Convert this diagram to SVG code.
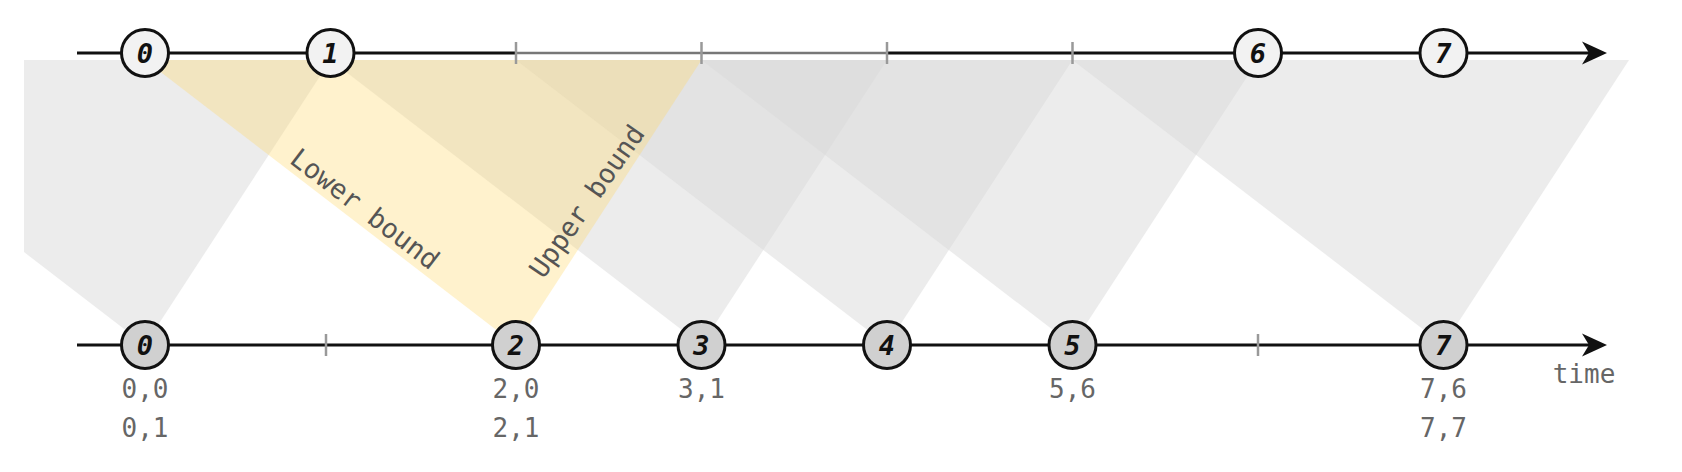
<svg xmlns="http://www.w3.org/2000/svg" width="1682" height="472" viewBox="0 0 1682 472">
<style>
.bg{fill:#fff}
.shade{fill:#d9d9d9;fill-opacity:0.5}
.hl{fill:#ffd966;fill-opacity:0.33}
.axis{stroke:#111;stroke-width:3;fill:none}
.axisg{stroke:#777;stroke-width:2.5;fill:none}
.tick{stroke:#999;stroke-width:2.5}
.top circle{fill:#f2f2f2;stroke:#111;stroke-width:3}
.bot circle{fill:#d0d0d0;stroke:#111;stroke-width:3}
.num{font-family:"DejaVu Sans Mono",monospace;font-weight:bold;font-style:italic;font-size:27px;fill:#111;text-anchor:middle}
.lbl{font-family:"DejaVu Sans Mono",monospace;font-size:26px;fill:#666;text-anchor:middle}
.bound{font-family:"DejaVu Sans Mono",monospace;font-size:27px;fill:#555;text-anchor:middle}
</style>
<defs>
<clipPath id="clip"><rect x="24" y="0" width="1658" height="472"/></clipPath>
<marker id="arr" markerUnits="userSpaceOnUse" markerWidth="30" markerHeight="30" viewBox="0 0 30 30" refX="14" refY="15" orient="auto">
<path d="M27,15 L2,3.5 L9,15 L2,26.5 Z" fill="#111"/>
</marker>
</defs>
<rect class="bg" x="0" y="0" width="1682" height="472"/>
<g id="shading" clip-path="url(#clip)">
<polygon class="shade" points="-226,60 330.5,60 145,345"/>
<polygon class="shade" points="330.5,60 887,60 701.5,345"/>
<polygon class="shade" points="516,60 1072.5,60 887,345"/>
<polygon class="shade" points="701.5,60 1258,60 1072.5,345"/>
<polygon class="shade" points="1072.5,60 1629,60 1443.5,345"/>
<polygon class="hl" points="145,60 701.5,60 516,345"/>
</g>
<g id="connectors">
<line class="axis" x1="77" y1="53" x2="516" y2="53"/>
<line class="axisg" x1="516" y1="53" x2="887" y2="53"/>
<line class="axis" x1="887" y1="53" x2="1594" y2="53" marker-end="url(#arr)"/>
<line class="axis" x1="77" y1="345" x2="1594" y2="345" marker-end="url(#arr)"/>
<line class="tick" x1="516" y1="42" x2="516" y2="64"/>
<line class="tick" x1="701.5" y1="42" x2="701.5" y2="64"/>
<line class="tick" x1="887" y1="42" x2="887" y2="64"/>
<line class="tick" x1="1072.5" y1="42" x2="1072.5" y2="64"/>
<line class="tick" x1="326" y1="334" x2="326" y2="356"/>
<line class="tick" x1="1258" y1="334" x2="1258" y2="356"/>
</g>
<g id="bounds">
<text class="bound" transform="translate(364,210) rotate(37.5)" y="8">Lower bound</text>
<text class="bound" transform="translate(588,202) rotate(-55)" y="8">Upper bound</text>
</g>
<g id="top0" class="top"><circle cx="145" cy="53" r="23.5"/><text class="num" x="145" y="62.5">0</text></g>
<g id="top1" class="top"><circle cx="330.5" cy="53" r="23.5"/><text class="num" x="330.5" y="62.5">1</text></g>
<g id="top6" class="top"><circle cx="1258" cy="53" r="23.5"/><text class="num" x="1258" y="62.5">6</text></g>
<g id="top7" class="top"><circle cx="1443.5" cy="53" r="23.5"/><text class="num" x="1443.5" y="62.5">7</text></g>
<g id="bot0" class="bot"><circle cx="145" cy="345" r="23.5"/><text class="num" x="145" y="354.5">0</text>
<text class="lbl" x="145" y="398">0,0</text><text class="lbl" x="145" y="437">0,1</text></g>
<g id="bot2" class="bot"><circle cx="516" cy="345" r="23.5"/><text class="num" x="516" y="354.5">2</text>
<text class="lbl" x="516" y="398">2,0</text><text class="lbl" x="516" y="437">2,1</text></g>
<g id="bot3" class="bot"><circle cx="701.5" cy="345" r="23.5"/><text class="num" x="701.5" y="354.5">3</text>
<text class="lbl" x="701.5" y="398">3,1</text></g>
<g id="bot4" class="bot"><circle cx="887" cy="345" r="23.5"/><text class="num" x="887" y="354.5">4</text></g>
<g id="bot5" class="bot"><circle cx="1072.5" cy="345" r="23.5"/><text class="num" x="1072.5" y="354.5">5</text>
<text class="lbl" x="1072.5" y="398">5,6</text></g>
<g id="bot7" class="bot"><circle cx="1443.5" cy="345" r="23.5"/><text class="num" x="1443.5" y="354.5">7</text>
<text class="lbl" x="1443.5" y="398">7,6</text><text class="lbl" x="1443.5" y="437">7,7</text></g>
<g id="timelabel"><text class="lbl" x="1584" y="383">time</text></g>
</svg>
